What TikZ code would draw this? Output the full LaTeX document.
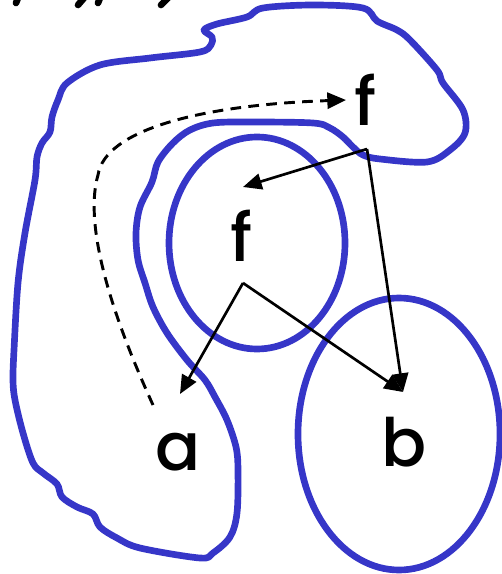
\documentclass[tikz,border=0pt]{standalone}
\usepackage{fontspec}
\setmainfont{Poppins}[UprightFont=* Medium]
\usetikzlibrary{arrows.meta}
\definecolor{blob}{RGB}{54,54,200}
\tikzset{
  region/.style={draw=blob, line width=5pt, line join=round},
  lbl/.style={font=\fontsize{50}{50}\selectfont, inner sep=0pt, text=black},
  conn/.style={draw=black, line width=2pt, -{Triangle[length=14pt,width=12pt]}},
  dconn/.style={conn, line width=2.2pt, dash pattern=on 8pt off 5.5pt},
  clip text/.style={line width=5pt, line cap=round}
}
\begin{document}
\begin{tikzpicture}[x=0.75pt,y=-0.75pt]
\useasboundingbox (0,0) rectangle (502,574);
% clipped fragments at top
\draw[clip text] (18,-2) -- (16,3);
\draw[clip text] (84,-2) -- (78,5);
\draw[clip text] (100,-2) -- (98,3);
\draw[clip text] (168,-2) -- (161,5);
% outer blob
\draw[region] plot[smooth cycle, tension=0.55] coordinates {
 (58,100) (67,83) (100,65) (150,58) (200,52) (211,45) (212,37) (204,30)
 (217,24) (247,17) (263,8) (313,5) (363,8) (377,21) (397,30) (410,40)
 (437,70) (443,83) (463,110) (465,133) (450,150) (427,162) (380,159)
 (363,155) (353,147) (343,137) (330,128) (313,123) (250,122) (213,123)
 (190,130) (173,143) (158,162) (152,182) (140,207) (136,233) (138,260)
 (145,283) (153,307) (167,333) (187,360) (205,380) (215,397) (227,420)
 (236,447) (238,470) (237,513) (230,537) (213,553) (200,558) (140,548)
 (117,538) (100,527) (93,514) (77,507) (62,497) (57,484) (43,473)
 (33,463) (23,433) (15,400) (13,380) (14,350) (18,283) (25,233)
 (35,180) (37,157) (42,143) (50,132) (52,117)
};
% inner circle around middle f
\draw[region] (257,243) ellipse [x radius=88, y radius=106];
% circle around b
\draw[region] (399,434) ellipse [x radius=101, y radius=136];
% labels
\node[lbl] (f1) at (366,100) {f};
\node[lbl] (f2) at (242,236) {f};
\node[lbl] (a) at (178,452) {a};
\node[lbl] (b) at (404,442) {b};
% connector points
\coordinate (p1) at (367,149);
\coordinate (p2) at (243,283);
\coordinate (t1) at (243,187);
\coordinate (ta) at (180,394);
\coordinate (tb) at (403,392);
\coordinate (td) at (346,100);
\coordinate (ds) at (153,405);
% arrows
\draw[conn] (p1) -- (t1);
\draw[conn] (p1) -- (tb);
\draw[conn] (p2) -- (ta);
\draw[conn] (p2) -- (tb);
\draw[dconn] (ds) .. controls (105,300) and (85,220) .. (98,175)
  .. controls (105,130) and (200,105) .. (td);
\end{tikzpicture}
\end{document}
